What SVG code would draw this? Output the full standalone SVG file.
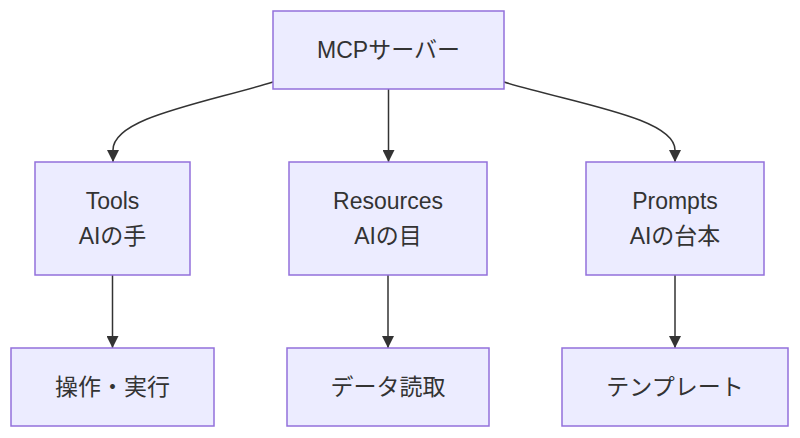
<svg xmlns="http://www.w3.org/2000/svg" width="800" height="438" viewBox="0 0 800 438">
<style>
.node rect{fill:#ECECFF;stroke:#9370DB;stroke-width:1.5}
.node text{font-family:"Liberation Sans","Noto Sans CJK JP",Arial,sans-serif;font-size:23px;fill:#333;text-anchor:middle;dominant-baseline:central}
.edges path{fill:none;stroke:#333;stroke-width:1.5}
</style>
<defs>
<marker id="arrow" viewBox="0 0 10 10" refX="10" refY="5" markerWidth="12" markerHeight="12" markerUnits="userSpaceOnUse" orient="auto">
<path d="M0,0 L10,5 L0,10 z" fill="#333"/>
</marker>
</defs>
<g class="edges">
<path d="M273,82 C200,104 113,118 113,150 L113,162" marker-end="url(#arrow)"/>
<path d="M388.5,89 L388.5,162" marker-end="url(#arrow)"/>
<path d="M504,82 C577,104 675,118 675,150 L675,162" marker-end="url(#arrow)"/>
<path d="M112.5,275 L112.5,348" marker-end="url(#arrow)"/>
<path d="M388,275 L388,348" marker-end="url(#arrow)"/>
<path d="M675,275 L675,348" marker-end="url(#arrow)"/>
</g>
<g id="mcp" class="node"><rect x="273" y="11" width="231" height="78"/><text x="388.5" y="50">MCPサーバー</text></g>
<g id="tools" class="node"><rect x="35" y="162" width="155" height="113"/><text x="112.5" y="201">Tools</text><text x="112.5" y="236">AIの手</text></g>
<g id="resources" class="node"><rect x="289" y="162" width="198" height="113"/><text x="388" y="201">Resources</text><text x="388" y="236">AIの目</text></g>
<g id="prompts" class="node"><rect x="586" y="162" width="178" height="113"/><text x="675" y="201">Prompts</text><text x="675" y="236">AIの台本</text></g>
<g id="exec" class="node"><rect x="11" y="348" width="203" height="78"/><text x="112.5" y="387">操作・実行</text></g>
<g id="read" class="node"><rect x="287" y="348" width="202" height="78"/><text x="388" y="387">データ読取</text></g>
<g id="template" class="node"><rect x="562" y="348" width="226" height="78"/><text x="675" y="387">テンプレート</text></g>
</svg>
